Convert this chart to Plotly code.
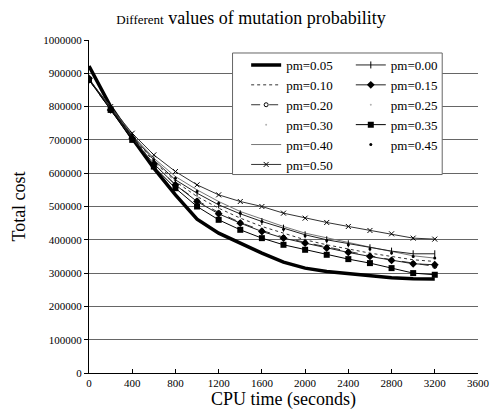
import plotly.graph_objects as go

cpu_time = [0, 200, 400, 600, 800, 1000, 1200, 1400, 1600, 1800, 2000, 2200, 2400, 2600, 2800, 3000, 3200]

pm_005 = [922000, 800000, 705000, 615000, 535000, 462000, 420000, 390000, 360000, 333000, 315000, 305000, 298000, 293000, 286000, 283000, 282000]
pm_000 = [880000, 795000, 712000, 640000, 580000, 540000, 505000, 478000, 455000, 435000, 415000, 400000, 388000, 376000, 366000, 358000, 358000]
pm_010 = [882000, 795000, 710000, 635000, 575000, 530000, 495000, 465000, 440000, 420000, 400000, 385000, 372000, 360000, 350000, 340000, 335000]
pm_015 = [885000, 790000, 705000, 628000, 565000, 515000, 478000, 450000, 425000, 405000, 390000, 375000, 362000, 350000, 338000, 328000, 325000]
pm_020 = [880000, 790000, 705000, 628000, 565000, 518000, 482000, 452000, 428000, 408000, 392000, 378000, 365000, 352000, 340000, 330000, 320000]
pm_025 = [880000, 792000, 710000, 635000, 572000, 525000, 490000, 460000, 437000, 415000, 398000, 382000, 370000, 358000, 345000, 335000, 330000]
pm_030 = [884000, 795000, 708000, 630000, 568000, 520000, 485000, 456000, 432000, 412000, 395000, 380000, 367000, 355000, 343000, 333000, 328000]
pm_035 = [880000, 790000, 700000, 620000, 555000, 500000, 460000, 430000, 405000, 385000, 370000, 355000, 342000, 330000, 315000, 300000, 295000]
pm_040 = [882000, 800000, 715000, 645000, 590000, 550000, 515000, 485000, 462000, 440000, 420000, 405000, 392000, 378000, 365000, 352000, 345000]
pm_045 = [885000, 800000, 715000, 640000, 585000, 545000, 510000, 480000, 455000, 432000, 412000, 398000, 385000, 372000, 360000, 350000, 345000]
pm_050 = [880000, 800000, 720000, 655000, 605000, 565000, 535000, 515000, 500000, 480000, 465000, 452000, 440000, 428000, 418000, 405000, 402000]

x_ticks = [0, 400, 800, 1200, 1600, 2000, 2400, 2800, 3200, 3600]
y_ticks = [0, 100000, 200000, 300000, 400000, 500000, 600000, 700000, 800000, 900000, 1000000]

left_col = [
    ("pm=0.05", pm_005, dict(mode="lines", line=dict(color="black", width=3.5))),
    ("pm=0.10", pm_010, dict(mode="lines", line=dict(color="#333", width=1, dash="dot"))),
    ("pm=0.20", pm_020, dict(mode="lines+markers", line=dict(color="#333", width=1, dash="dash"), marker=dict(symbol="circle-open", size=4, color="black"))),
    ("pm=0.30", pm_030, dict(mode="markers", marker=dict(symbol="circle", size=1, color="rgba(0,0,0,0.3)"))),
    ("pm=0.40", pm_040, dict(mode="lines", line=dict(color="#777", width=1))),
    ("pm=0.50", pm_050, dict(mode="lines+markers", line=dict(color="#333", width=1), marker=dict(symbol="x-thin", size=5, line=dict(width=1, color="black")))),
]
right_col = [
    ("pm=0.00", pm_000, dict(mode="lines+markers", line=dict(color="#222", width=1), marker=dict(symbol="line-ns", size=5, line=dict(width=1, color="black")))),
    ("pm=0.15", pm_015, dict(mode="lines+markers", line=dict(color="#222", width=1), marker=dict(symbol="diamond", size=6, color="black"))),
    ("pm=0.25", pm_025, dict(mode="markers", marker=dict(symbol="circle", size=1, color="rgba(0,0,0,0.3)"))),
    ("pm=0.35", pm_035, dict(mode="lines+markers", line=dict(color="black", width=1), marker=dict(symbol="square", size=6, color="black"))),
    ("pm=0.45", pm_045, dict(mode="markers", marker=dict(symbol="circle", size=3, color="black"))),
]

fig = go.Figure()
for name, vals, style in left_col:
    fig.add_trace(go.Scatter(x=cpu_time, y=vals, name=name, legend="legend", **style))
for name, vals, style in right_col:
    fig.add_trace(go.Scatter(x=cpu_time, y=vals, name=name, legend="legend2", **style))

serif = "Liberation Serif"
leg_common = dict(
    yanchor="top", xanchor="left", orientation="v",
    bgcolor="rgba(0,0,0,0)", borderwidth=0,
    font=dict(family=serif, size=13, color="black"),
    itemwidth=30, tracegroupgap=0,
)
fig.update_layout(
    width=502, height=418,
    margin=dict(l=89, r=12, t=40, b=44),
    paper_bgcolor="white", plot_bgcolor="white",
    font=dict(family=serif, color="black"),
    title=dict(
        text="<span style='font-size:13px'>Different</span> values of mutation probability",
        x=0.5, xanchor="center", y=0.957, yanchor="middle",
        font=dict(family=serif, size=18, color="black"),
    ),
    showlegend=True,
    legend=dict(x=0.404, y=0.970, **leg_common),
    legend2=dict(x=0.673, y=0.970, **leg_common),
    shapes=[dict(
        type="rect", xref="paper", yref="paper",
        x0=0.369, x1=0.908, y0=0.596, y1=0.961,
        fillcolor="white", line=dict(color="#666", width=1), layer="above",
    )],
)
fig.update_xaxes(
    range=[0, 3600], tickvals=x_ticks, ticktext=[str(v) for v in x_ticks],
    showline=True, linecolor="black", linewidth=1,
    ticks="inside", ticklen=4, tickcolor="black",
    showgrid=False, zeroline=False,
    tickfont=dict(family=serif, size=11),
    title=dict(text="CPU time (seconds)", font=dict(family=serif, size=18), standoff=4),
)
fig.update_yaxes(
    range=[0, 1000000], tickvals=y_ticks, ticktext=[str(v) for v in y_ticks],
    showline=True, linecolor="black", linewidth=1,
    ticks="outside", ticklen=4, tickcolor="black",
    showgrid=True, gridcolor="#666", gridwidth=1, zeroline=False,
    tickfont=dict(family=serif, size=11),
    title=dict(text="Total cost", font=dict(family=serif, size=18), standoff=12),
)

fig.write_html("out.html")
